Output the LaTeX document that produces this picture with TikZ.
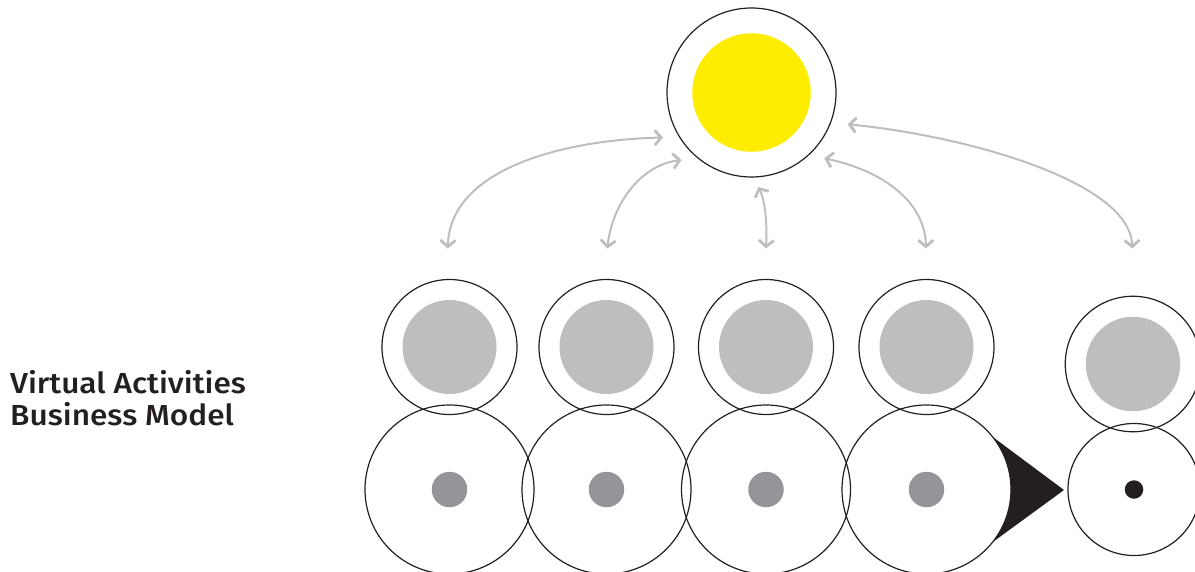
\documentclass[tikz,border=0pt]{standalone}
\usepackage{fontspec}
\newfontfamily\labfont[FakeStretch=1.09]{Fira Sans Medium}
\usetikzlibrary{arrows.meta,calc}
\definecolor{sunyellow}{HTML}{FFED00}
\definecolor{lightgr}{HTML}{BCBEC0}
\definecolor{darkgr}{HTML}{939598}
\definecolor{inkblack}{HTML}{231F20}
\begin{document}
\begin{tikzpicture}[x=1pt,y=-1pt,
  ring/.style={circle, draw=inkblack, line width=1.2pt, inner sep=0pt, outer sep=0pt},
  disc/.style={circle, fill=#1, inner sep=0pt, outer sep=0pt},
  barb/.tip={Straight Barb[length=6.5pt,width=15pt,line width=2.8pt]},
  link/.style={draw=lightgr, line width=2pt, barb-barb},
  title/.style={anchor=base west, inner sep=0pt, text=inkblack, font=\labfont\fontsize{29}{32}\selectfont}
]
\useasboundingbox (0,0) rectangle (1195,571);

% top
\node[disc=sunyellow, minimum size=118.5pt] (sun) at (751.5,92.5) {};
\node[ring, minimum size=169pt] (top) at (751.5,92.5) {};

% rows
\foreach \i/\x in {1/449.5,2/606.5,3/766,4/926.5}{
  \node[disc=lightgr, minimum size=94pt] (g\i) at (\x,347) {};
  \node[ring, minimum size=135pt] (u\i) at (\x,347) {};
  \node[disc=darkgr, minimum size=35.5pt] (d\i) at (\x,489.5) {};
  \node[ring, minimum size=169pt] (b\i) at (\x,489.5) {};
}
\node[disc=lightgr, minimum size=94.5pt] (g5) at (1133,364) {};
\node[ring, minimum size=135.5pt] (u5) at (1133,364) {};
\node[disc=inkblack, minimum size=18.5pt] (d5) at (1134,489.5) {};
\node[ring, minimum size=132pt] (b5) at (1134,489.5) {};

% wedge
\coordinate (wtip) at (1064,490);
\fill[inkblack] (wtip) -- ($(b4.center)+(38.6:84.5)$)
  arc[start angle=38.6, end angle=-38.6, radius=84.5] -- cycle;

% connector ends
\coordinate (a1t) at (663,137.5);
\coordinate (a1b) at (447.7,248.5);
\coordinate (a2t) at (681.5,160);
\coordinate (a2b) at (607.3,248.5);
\coordinate (a3t) at (758.3,187);
\coordinate (a3b) at (766,248.5);
\coordinate (a4t) at (824.3,158.3);
\coordinate (a4b) at (926,248.5);
\coordinate (a5t) at (847.7,124.3);
\coordinate (a5b) at (1132.3,248.5);

\draw[link] (a1t) .. controls (560,140) and (450,170) .. (a1b);
\draw[link] (a2t) .. controls (640,165) and (612,205) .. (a2b);
\draw[link] (a3t) .. controls (766,203) and (767,225) .. (a3b);
\draw[link] (a4t) .. controls (880,170) and (925,200) .. (a4b);
\draw[link] (a5t) .. controls (960,135) and (1130,180) .. (a5b);

% text
\node[title] (t1) at (10,393.3) {Virtual Activities};
\node[title] (t2) at (10,425.5) {Business Model};
\end{tikzpicture}
\end{document}
